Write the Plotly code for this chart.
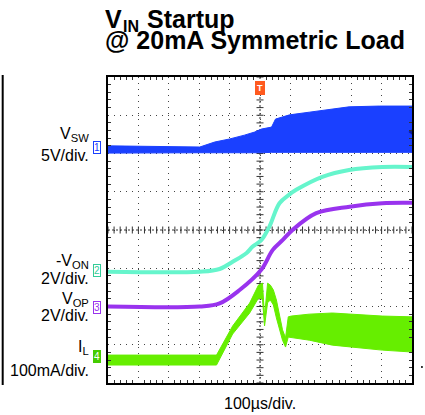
import numpy as np
import plotly.graph_objects as go

# ---- data (time in µs, 100 µs/div, trigger at 0; amplitude in screen divisions) ----
vsw_t  = [-500, -198, -149, -100, -51, -18, 5, 38, 51, 97, 162, 228, 293, 392, 500]
vsw_hi = [6.20, 6.17, 6.30, 6.38, 6.48, 6.56, 6.64, 6.69, 6.90, 7.01, 7.08, 7.16, 7.22, 7.24, 7.24]
vsw_lo = [6.01, 6.02, 6.03, 6.03, 6.02, 6.02, 6.02, 6.03, 6.04, 6.03, 6.03, 6.04, 6.03, 6.03, 6.03]

von_t = [-500, -198, -133, -90, -44, -25, 5, 31, 64, 97, 119, 205, 293, 402, 500]
von_y = [2.91, 2.91, 2.98, 3.17, 3.40, 3.56, 3.74, 4.09, 4.70, 4.93, 5.05, 5.39, 5.57, 5.65, 5.65]

vop_t = [-500, -198, -133, -67, 4, 42, 75, 107, 185, 295, 402, 500]
vop_y = [2.00, 2.00, 2.08, 2.43, 2.96, 3.48, 3.74, 4.00, 4.44, 4.61, 4.70, 4.71]

il_t  = [-500, -143, -90, -34, -5, 8, 15, 25, 34, 44, 54, 74, 84, 93, 103, 162, 238, 293, 402, 500]
il_hi = [0.73, 0.73, 1.49, 2.09, 2.56, 2.61, 1.75, 2.61, 2.56, 2.43, 2.17, 1.39, 1.18, 1.73, 1.75, 1.80, 1.83, 1.80, 1.75, 1.73]
il_lo = [0.47, 0.47, 1.28, 1.83, 2.22, 2.20, 1.49, 2.10, 2.17, 2.04, 1.70, 1.12, 0.94, 1.20, 1.18, 1.12, 0.99, 0.94, 0.86, 0.81]

C_BLUE, C_TEAL, C_PURP, C_GREEN, C_TRIG = "#1a40ff", "#66f5cc", "#9933ee", "#66ee00", "#ff5a1f"

W, H = 425, 415
ML, MR, MT, MB = 108, 11, 77, 32
PW, PH = W - ML - MR, H - MT - MB


def xp(px):
    return (px - ML) / PW


def yp(py):
    return (H - MB - py) / PH


fig = go.Figure()

# crosshair minor ticks (graticule)
ct_y = list(np.arange(0, 8.01, 0.2))
ct_x = list(np.arange(-500, 500.1, 20))
fig.add_trace(go.Scatter(x=[0] * len(ct_y), y=ct_y, mode="markers",
                         marker=dict(symbol="line-ew", size=5, line=dict(color="#333", width=1)),
                         hoverinfo="skip", showlegend=False))
fig.add_trace(go.Scatter(x=ct_x, y=[4] * len(ct_x), mode="markers",
                         marker=dict(symbol="line-ns", size=5, line=dict(color="#333", width=1)),
                         hoverinfo="skip", showlegend=False))

# VSW band
fig.add_trace(go.Scatter(x=vsw_t + vsw_t[::-1], y=vsw_hi + vsw_lo[::-1], fill="toself",
                         fillcolor=C_BLUE, line=dict(color=C_BLUE, width=1), mode="lines",
                         showlegend=False, hoverinfo="skip"))
# -VON
fig.add_trace(go.Scatter(x=von_t, y=von_y, mode="lines", line=dict(color=C_TEAL, width=4),
                         line_shape="spline", showlegend=False))
# VOP
fig.add_trace(go.Scatter(x=vop_t, y=vop_y, mode="lines", line=dict(color=C_PURP, width=4),
                         line_shape="spline", showlegend=False))
# IL band
fig.add_trace(go.Scatter(x=il_t + il_t[::-1], y=il_hi + il_lo[::-1], fill="toself",
                         fillcolor=C_GREEN, line=dict(color=C_GREEN, width=1), mode="lines",
                         showlegend=False, hoverinfo="skip"))

# right-edge ch1 offset arrow
fig.add_trace(go.Scatter(x=[500], y=[6.56], mode="markers", cliponaxis=False,
                         marker=dict(symbol="triangle-left", size=7, color="#0a1a99"),
                         showlegend=False, hoverinfo="skip"))

fig.add_shape(type="line", xref="x", yref="y", x0=0, x1=0, y0=0, y1=8,
              line=dict(color="#333", width=1, dash="2px,2px"), layer="below")
fig.add_shape(type="line", xref="x", yref="y", x0=-500, x1=500, y0=4, y1=4,
              line=dict(color="#333", width=1, dash="2px,2px"), layer="below")
# stray border at far left of the picture
fig.add_shape(type="line", xref="paper", yref="paper", x0=xp(2), x1=xp(2), y0=yp(75), y1=yp(385),
              line=dict(color="black", width=2))
fig.add_shape(type="circle", xref="paper", yref="paper", x0=xp(423), x1=xp(425), y0=yp(366), y1=yp(368),
              fillcolor="black", line=dict(width=0))

FONT = "Liberation Sans, Arial, sans-serif"


def label(text, xr, baseline, size=16, anchor="right", bold=False):
    fig.add_annotation(text=text, xref="paper", yref="paper", x=xp(xr), y=yp(baseline - 0.905 * size),
                       xanchor=anchor, yanchor="top", showarrow=False, borderpad=0,
                       font=dict(family=FONT, size=size, color="black",
                                 weight="bold" if bold else "normal"))


# title (subscript placed as its own text so it does not collide with line 2)
label("V", 104, 26.5, size=25, anchor="left", bold=True)
label("IN", 122, 31.5, size=16, anchor="left", bold=True)
label("Startup", 146, 26.5, size=25, anchor="left", bold=True)
label("@ 20mA Symmetric Load", 104, 48, size=25, anchor="left", bold=True)

label("V<sub>SW</sub>", 90, 138)
label("5V/div.", 90, 160.7)
label("-V<sub>ON</sub>", 90, 265)
label("2V/div.", 90, 283.3)
label("V<sub>OP</sub>", 90, 303.3)
label("2V/div.", 90, 320)
label("I<sub>L</sub>", 90, 351.7)
label("100mA/div.", 90, 375)
label("100µs/div.", 261.5, 408.3, anchor="center")


def chmark(text, py, color, filled=False):
    fig.add_annotation(text=text, xref="paper", yref="paper", x=xp(100.5), y=yp(py),
                       xanchor="right", yanchor="middle", showarrow=False, borderpad=0,
                       bordercolor=color, borderwidth=1, bgcolor=color if filled else "white",
                       font=dict(family=FONT, size=10, color="white" if filled else color))


chmark("1", 147, C_BLUE)
chmark("2", 270, "#33cc99")
chmark("3", 307, C_PURP)
chmark("4", 356, "#44cc00", filled=True)

fig.add_annotation(text="T", xref="x", yref="paper", x=0, y=yp(81), xanchor="center", yanchor="top",
                   showarrow=False, borderpad=1, bgcolor=C_TRIG, bordercolor=C_TRIG,
                   font=dict(family=FONT, size=9, color="white", weight="bold"))

axis_common = dict(showline=True, linewidth=2, linecolor="black", mirror="ticks",
                   showticklabels=False, ticks="", zeroline=False, fixedrange=True,
                   griddash="1px,5px", gridcolor="#444", gridwidth=1)
fig.update_xaxes(range=[-500, 500], dtick=100, tick0=-500,
                 minor=dict(ticks="inside", dtick=20, ticklen=3, tickcolor="#333", showgrid=False),
                 **axis_common)
fig.update_yaxes(range=[0, 8], dtick=1, tick0=0,
                 minor=dict(ticks="inside", dtick=0.2, ticklen=3, tickcolor="#333", showgrid=False),
                 **axis_common)

fig.update_layout(width=W, height=H, margin=dict(l=ML, r=MR, t=MT, b=MB),
                  paper_bgcolor="white", plot_bgcolor="white", showlegend=False)

fig.write_html("out.html", config={"displayModeBar": False},
               post_script="document.body.style.margin='0';document.body.style.overflow='hidden';")
